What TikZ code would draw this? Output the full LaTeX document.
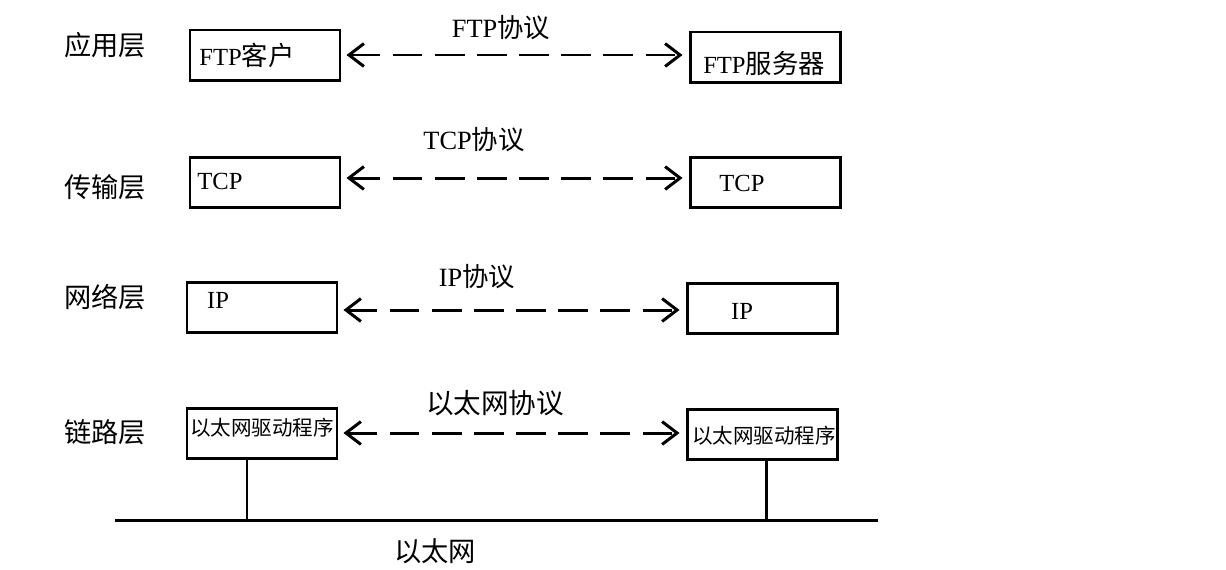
\documentclass[tikz,border=0pt]{standalone}
\usepackage{fontspec}
\setmainfont{Liberation Serif}
\newfontfamily\cjk{Noto Sans CJK SC}
\usetikzlibrary{arrows.meta}

\begin{document}
\begin{tikzpicture}[
    % pixel grid of the reference, y pointing down
    x=0.02cm, y=-0.02cm,
    layerbox/.style={draw, line width=1.7pt, minimum width=150*0.02cm, minimum height=50*0.02cm, inner sep=0pt},
    layername/.style={font=\cjk\fontsize{15.5}{17}\selectfont},
    boxtext/.style={font=\fontsize{14}{16}\selectfont, inner sep=0pt},
    ethtext/.style={font=\cjk\fontsize{11.7}{13}\selectfont, inner sep=0pt},
    prototext/.style={font=\fontsize{15}{17}\selectfont, inner sep=0pt},
    protoarrow/.style={line width=1.7pt, dash pattern=on 17pt off 7pt,
        {Straight Barb[length=8.5pt, width=13pt, line width=1.7pt]}-{Straight Barb[length=8.5pt, width=13pt, line width=1.7pt]},
        shorten <=5*0.02cm, shorten >=6*0.02cm},
    wire/.style={line width=1.7pt}
]
  \useasboundingbox (0,0) rectangle (1226,569);

  % Layer names
  \node[layername] (app)  at (105,45)  {应用层};
  \node[layername] (tran) at (105,187) {传输层};
  \node[layername] (net)  at (105,297) {网络层};
  \node[layername] (link) at (105,432) {链路层};

  % Client side stack
  \node[layerbox] (ftpc) at (265,55)  {};
  \node[layerbox] (tcpc) at (265,182) {};
  \node[layerbox] (ipc)  at (262,307) {};
  \node[layerbox] (ethc) at (262,433) {};

  % Server side stack
  \node[layerbox] (ftps) at (765,57)  {};
  \node[layerbox] (tcps) at (765,182) {};
  \node[layerbox] (ips)  at (762,308) {};
  \node[layerbox] (eths) at (762,434) {};

  % Box texts
  \node[boxtext] (ftpct) at (247,55)  {FTP{\cjk\fontsize{15}{17}\selectfont 客户}};
  \node[boxtext] (tcpct) at (220,181) {TCP};
  \node[boxtext] (ipct)  at (218,300) {IP};
  \node[ethtext] (ethct) at (262,428) {以太网驱动程序};
  \node[boxtext] (ftpst) at (764,63)  {FTP{\cjk\fontsize{15}{17}\selectfont 服务器}};
  \node[boxtext] (tcpst) at (742,183) {TCP};
  \node[boxtext] (ipst)  at (742,311) {IP};
  \node[ethtext] (ethst) at (764,436) {以太网驱动程序};

  % Peer protocols
  \coordinate (tcpa) at ([yshift=0.08cm]tcpc.east);
  \coordinate (ipa)  at ([yshift=-0.06cm]ipc.east);
  \draw[protoarrow] (ftpc.east) -- (ftpc.east -| ftps.west);
  \draw[protoarrow] (tcpa) -- (tcpa -| tcps.west);
  \draw[protoarrow] (ipa) -- (ipa -| ips.west);
  \draw[protoarrow] (ethc.east) -- (ethc.east -| eths.west);

  \node[prototext] (ftpp) at (501,28)  {FTP{\cjk 协议}};
  \node[prototext] (tcpp) at (474,140) {TCP{\cjk 协议}};
  \node[prototext] (ipp)  at (477,277) {IP{\cjk 协议}};
  \node[prototext, font=\cjk\fontsize{15.7}{17}\selectfont] (ethp) at (495,403) {以太网协议};

  % Ethernet bus
  \coordinate (busl) at (115,520);
  \coordinate (busr) at (878,520);
  \draw[wire] (busl) -- (busr);
  \draw[wire] (ethc.south -| 247,0) -- (busl -| 247,0);
  \draw[wire] (eths.south -| 766,0) -- (busl -| 766,0);
  \node[layername] (ethn) at (435,551) {以太网};

\end{tikzpicture}
\end{document}
